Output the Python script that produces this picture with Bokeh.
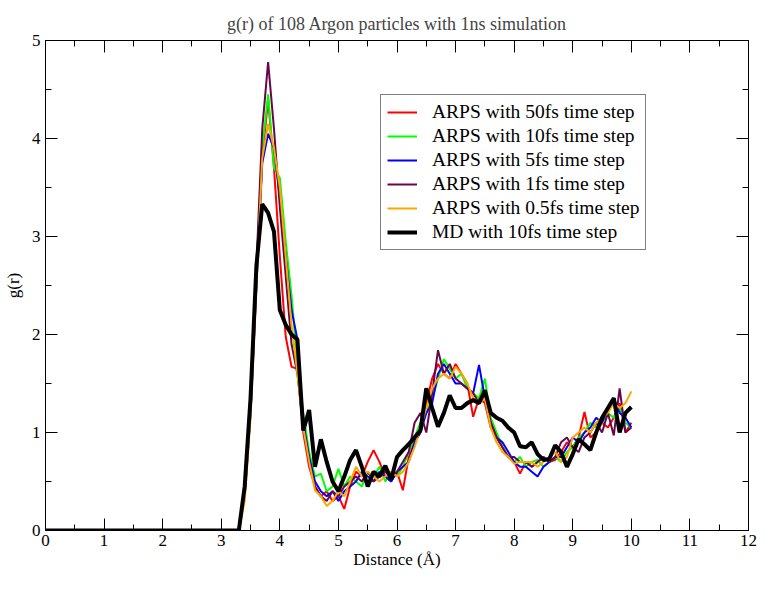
import numpy as np
from bokeh.plotting import figure
from bokeh.models import Range1d, LinearAxis, SingleIntervalTicker, Legend, LegendItem
from bokeh.embed import file_html
from bokeh.resources import INLINE

# distance grid (Angstrom): origin, then 3.2 ... 10.0 every 0.1
r = [0.0] + [round(v, 2) for v in np.arange(3.2, 10.0001, 0.1)]

g_50fs = [0.0,
    0.0, 0.0, 0.35, 1.2, 2.5, 3.8, 4.4, 3.7, 2.8, 1.98,
    1.67, 1.65, 1.0, 0.65, 0.45, 0.35, 0.4, 0.3, 0.35, 0.22,
    0.45, 0.6, 0.55, 0.7, 0.82, 0.7, 0.55, 0.5, 0.6, 0.41,
    0.75, 0.9, 1.0, 1.3, 1.55, 1.7, 1.6, 1.55, 1.7, 1.6,
    1.5, 1.16, 1.35, 1.3, 1.05, 0.95, 0.85, 0.75, 0.7, 0.58,
    0.7, 0.65, 0.7, 0.75, 0.7, 0.72, 0.8, 0.9, 0.85, 0.95,
    1.21, 0.95, 1.0, 1.1, 1.05, 1.15, 1.3, 1.0, 1.1]
g_10fs = [0.0,
    0.0, 0.0, 0.4, 1.3, 2.6, 3.9, 4.45, 3.7, 3.6, 2.95,
    2.4, 1.7, 1.2, 0.8, 0.55, 0.58, 0.4, 0.45, 0.63, 0.45,
    0.55, 0.5, 0.45, 0.6, 0.55, 0.65, 0.5, 0.6, 0.55, 0.65,
    0.8, 0.95, 1.1, 1.2, 1.35, 1.55, 1.75, 1.65, 1.55, 1.6,
    1.45, 1.4, 1.35, 1.55, 1.15, 1.0, 0.85, 0.75, 0.7, 0.75,
    0.65, 0.7, 0.72, 0.65, 0.7, 0.75, 0.7, 0.8, 0.85, 0.95,
    1.0, 1.1, 1.05, 1.1, 1.2, 1.15, 1.25, 1.1, 1.05]
g_5fs = [0.0,
    0.0, 0.0, 0.35, 1.2, 2.5, 3.75, 4.05, 3.9, 3.4, 2.8,
    2.25, 1.95, 1.1, 0.75, 0.5, 0.4, 0.35, 0.4, 0.3, 0.4,
    0.45, 0.5, 0.6, 0.55, 0.5, 0.6, 0.55, 0.5, 0.6, 0.65,
    0.7, 0.9, 1.0, 1.2, 1.3, 1.6, 1.7, 1.6, 1.5, 1.5,
    1.45, 1.4, 1.69, 1.35, 1.1, 0.95, 0.9, 0.8, 0.7, 0.65,
    0.65, 0.6, 0.55, 0.65, 0.7, 0.75, 0.75, 0.85, 0.95, 0.9,
    1.0, 1.05, 1.15, 1.1, 1.25, 1.35, 1.2, 1.15, 1.05]
g_1fs = [0.0,
    0.0, 0.0, 0.45, 1.3, 2.7, 4.1, 4.78, 4.1, 3.3, 2.6,
    1.9, 1.6, 1.05, 0.7, 0.45, 0.35, 0.3, 0.4, 0.35, 0.45,
    0.5, 0.55, 0.5, 0.6, 0.5, 0.55, 0.6, 0.55, 0.6, 0.7,
    0.8, 1.1, 1.2, 1.0, 1.4, 1.84, 1.6, 1.7, 1.55, 1.5,
    1.45, 1.4, 1.3, 1.4, 1.1, 0.95, 0.85, 0.75, 0.75, 0.7,
    0.7, 0.65, 0.7, 0.75, 0.7, 0.75, 0.9, 0.95, 0.85, 0.8,
    0.95, 1.0, 1.1, 1.0, 1.2, 0.97, 1.45, 1.0, 1.05]
g_05fs = [0.0,
    0.0, 0.0, 0.3, 1.15, 2.5, 3.8, 4.15, 3.9, 3.5, 2.8,
    2.1, 1.6, 1.05, 0.7, 0.41, 0.35, 0.25, 0.3, 0.4, 0.35,
    0.5, 0.65, 0.55, 0.6, 0.55, 0.5, 0.55, 0.6, 0.55, 0.6,
    0.7, 0.85, 1.05, 1.25, 1.45, 1.55, 1.6, 1.55, 1.67, 1.6,
    1.5, 1.35, 1.3, 1.35, 1.05, 0.9, 0.8, 0.75, 0.68, 0.7,
    0.7, 0.7, 0.65, 0.7, 0.75, 0.8, 0.7, 0.75, 0.95, 1.0,
    1.05, 1.0, 1.1, 1.15, 1.2, 1.3, 1.25, 1.3, 1.42]
g_md = [0.0,
    0.0, 0.0, 0.45, 1.35, 2.7, 3.33, 3.24, 3.05, 2.25, 2.1,
    2.0, 1.95, 1.02, 1.23, 0.65, 0.93, 0.7, 0.5, 0.4, 0.55,
    0.72, 0.82, 0.65, 0.45, 0.6, 0.55, 0.66, 0.52, 0.75, 0.82,
    0.88, 0.95, 1.02, 1.45, 1.25, 1.06, 1.2, 1.38, 1.25, 1.25,
    1.3, 1.33, 1.3, 1.43, 1.2, 1.15, 1.12, 1.05, 1.0, 0.86,
    0.85, 0.9, 0.78, 0.72, 0.73, 0.87, 0.8, 0.65, 0.78, 0.93,
    0.88, 0.82, 1.0, 1.15, 1.25, 1.35, 1.0, 1.2, 1.26]

labels = ["ARPS with 50fs time step", "ARPS with 10fs time step",
          "ARPS with 5fs time step", "ARPS with 1fs time step",
          "ARPS with 0.5fs time step", "MD with 10fs time step"]
series = [g_50fs, g_10fs, g_5fs, g_1fs, g_05fs, g_md]
colors = ["#ff0000", "#00ff00", "#0000ff", "#67074a", "#ffa500", "#000000"]
widths = [2, 2, 2, 2, 2, 4]

FONT = "Liberation Serif"

p = figure(width=761, height=575, x_range=Range1d(0, 12), y_range=Range1d(0, 5),
           output_backend="svg", toolbar_location=None,
           min_border_left=44, min_border_right=13, min_border_top=40, min_border_bottom=45,
           title="g(r) of 108 Argon particles with 1ns simulation")
p.title.align = "center"
p.title.text_font = FONT
p.title.text_font_style = "normal"
p.title.text_font_size = "18px"
p.title.standoff = 14
p.xgrid.visible = False
p.ygrid.visible = False
p.outline_line_color = "black"
p.outline_line_width = 1

items = []
for ys, c, w, lab in zip(series, colors, widths, labels):
    rr = p.line(r, ys, line_color=c, line_width=w)
    items.append(LegendItem(label=lab, renderers=[rr]))

def style_axis(ax, show_labels):
    ax.ticker = SingleIntervalTicker(interval=1, num_minor_ticks=2)
    ax.major_tick_in = 12
    ax.major_tick_out = 0
    ax.minor_tick_in = 6
    ax.minor_tick_out = 0
    ax.axis_line_color = "black"
    ax.major_tick_line_color = "black"
    ax.minor_tick_line_color = "black"
    ax.major_label_text_font = FONT
    ax.major_label_text_color = "black"
    ax.axis_label_text_font = FONT
    ax.axis_label_text_font_style = "normal"
    ax.axis_label_text_color = "black"
    ax.axis_label_text_font_size = "17px"
    if show_labels:
        ax.major_label_text_font_size = "17px"
    else:
        ax.major_label_text_font_size = "0px"
        ax.major_label_standoff = 0

xa = p.xaxis[0]
ya = p.yaxis[0]
style_axis(xa, True)
style_axis(ya, True)
xa.axis_label = "Distance (Å)"
ya.axis_label = "g(r)"
xa.major_label_standoff = 4
ya.major_label_standoff = 5
xa.axis_label_standoff = 1
ya.axis_label_standoff = 6

top = LinearAxis()
right = LinearAxis()
style_axis(top, False)
style_axis(right, False)
p.add_layout(top, "above")
p.add_layout(right, "right")

legend = Legend(items=items, location=(335, 280))
legend.label_text_font = FONT
legend.label_text_font_size = "19.5px"
legend.label_text_color = "black"
legend.glyph_width = 30
legend.glyph_height = 20
legend.label_height = 20
legend.label_standoff = 15
legend.spacing = 2
legend.padding = 6
legend.margin = 0
legend.border_line_color = "black"
legend.border_line_width = 1
legend.background_fill_color = "white"
legend.background_fill_alpha = 1
p.add_layout(legend, "center")

open("out.html", "w").write(file_html(p, INLINE))
